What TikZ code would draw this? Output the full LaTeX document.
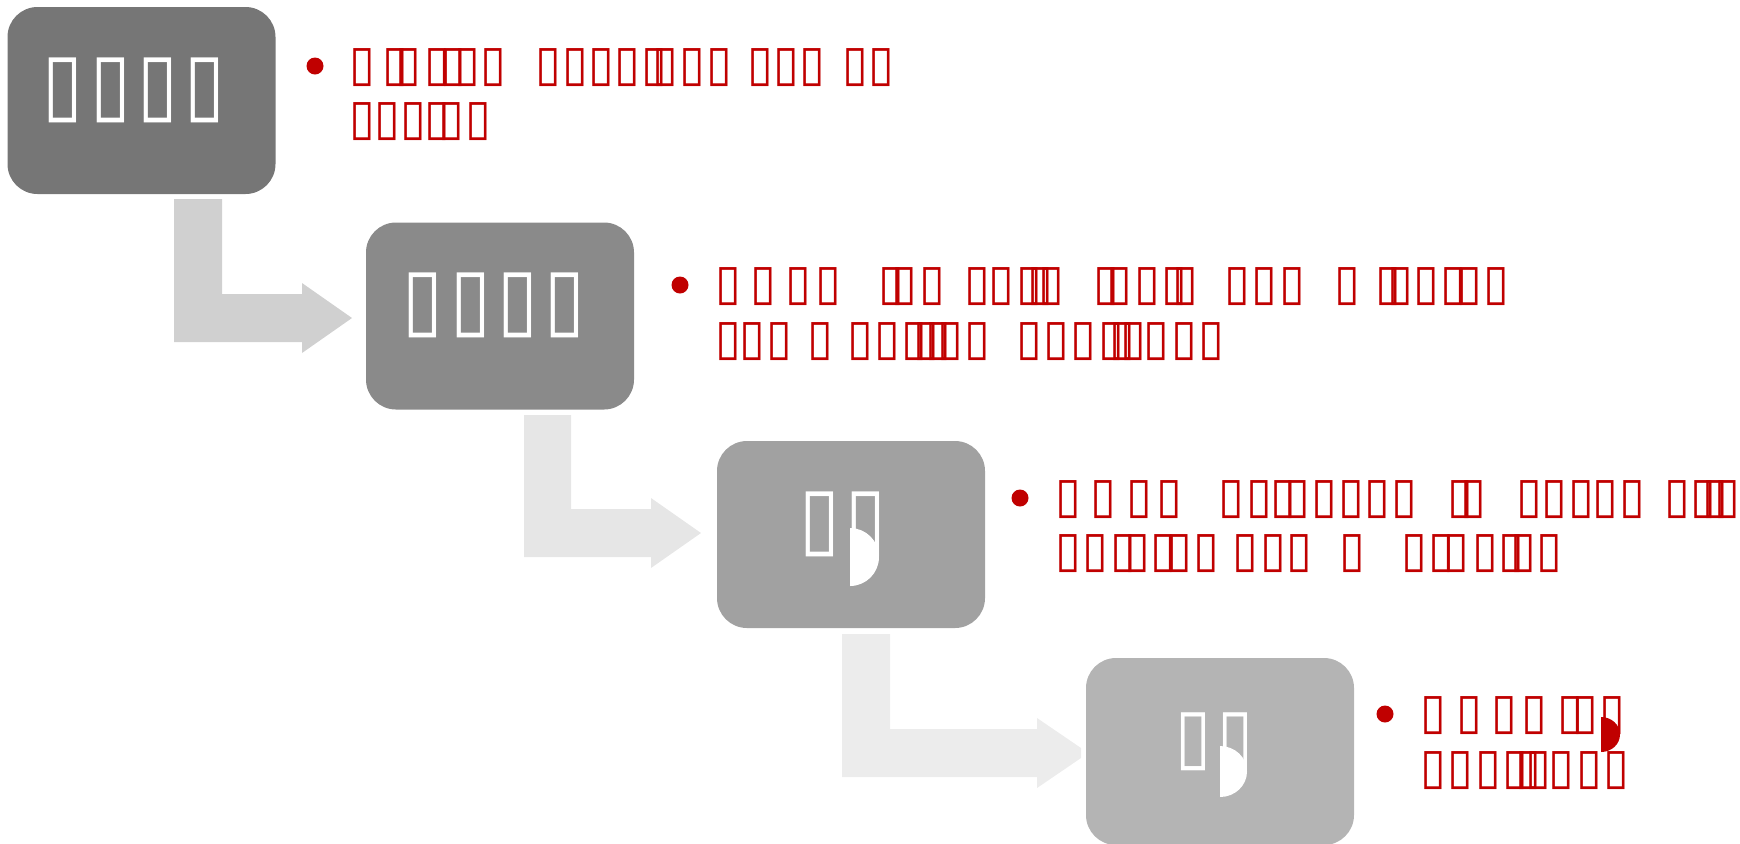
\documentclass[tikz,border=0pt]{standalone}
\usepackage{fontspec}
\usepackage{graphicx}
\newfontfamily\tofufont{DejaVu Sans}
\definecolor{redtxt}{HTML}{C00000}
\definecolor{boxa}{HTML}{767676}
\definecolor{boxb}{HTML}{8A8A8A}
\definecolor{boxc}{HTML}{A1A1A1}
\definecolor{boxd}{HTML}{B4B4B4}
\definecolor{arra}{HTML}{D0D0D0}
\definecolor{arrb}{HTML}{E6E6E6}
\definecolor{arrc}{HTML}{ECECEC}
\newcommand\rtf{\scalebox{0.94}[1]{\resizebox*{!}{19pt}{\tofufont ▯}}}
\newcommand\wtf{\scalebox{0.87}[1]{\resizebox*{!}{32.5pt}{\tofufont ▯}}}
\newcommand\wtfs{\scalebox{0.86}[1]{\resizebox*{!}{29pt}{\tofufont ▯}}}
\tikzset{
  procbox/.style={rounded corners=15pt, inner sep=0pt, minimum width=134pt, minimum height=93.5pt},
  rt/.style={inner sep=0pt, outer sep=0pt, anchor=north, text=redtxt},
  wt/.style={inner sep=0pt, outer sep=0pt, anchor=north, text=white},
  bullet/.style={circle, fill=redtxt, inner sep=0pt, minimum size=8.5pt}
}
\begin{document}
\begin{tikzpicture}[x=0.5pt,y=-0.5pt]
\useasboundingbox (0,0) rectangle (1740,843);
% boxes
\node[procbox, fill=boxa] (b1) at (141.5,100.5) {};
\node[procbox, fill=boxb] (b2) at (500,316) {};
\node[procbox, fill=boxc] (b3) at (851,534.5) {};
\node[procbox, fill=boxd] (b4) at (1220,751.5) {};
% L-shaped arrows
\fill[arra] (174,199) -- (222,199) -- (222,294) -- (302,294) -- (302,283) -- (352,318) -- (302,353) -- (302,342) -- (174,342) -- cycle;
\fill[arrb] (524,415) -- (571,415) -- (571,509) -- (651,509) -- (651,498) -- (701,533) -- (651,568) -- (651,557) -- (524,557) -- cycle;
\fill[arrc] (842,634) -- (890,634) -- (890,729) -- (1037,729) -- (1037,718) -- (1081,748) -- (1081,758) -- (1037,788) -- (1037,777) -- (842,777) -- cycle;
% titles
\foreach \x [count=\i] in {50,98,145,192} \node[wt] (ta\i) at (\x+12.5,58) {\wtf};
\foreach \x [count=\i] in {410,458,505,552} \node[wt] (tb\i) at (\x+12.5,273) {\wtf};
\foreach \x [count=\i] in {807,853} \node[wt] (tc\i) at (\x+12.5,492) {\wtf};
\foreach \x [count=\i] in {1182,1224} \node[wt] (td\i) at (\x+11.5,713) {\wtfs};
\fill[white] (850,528) .. controls (866,528) and (879,541) .. (879,557) .. controls (879,573) and (866,586) .. (850,586) -- cycle;
\fill[white] (1220,746) .. controls (1234.9,746) and (1247,757.4) .. (1247,771.5) .. controls (1247,785.6) and (1234.9,797) .. (1220,797) -- cycle;
% bullets
\node[bullet] (d1) at (315,66) {};
\node[bullet] (d2) at (680,285) {};
\node[bullet] (d3) at (1020,498) {};
\node[bullet] (d4) at (1385,714) {};
% text rows
\foreach \x [count=\i] in {354,387,400,429,445,459,485,540,567,593,619,646,657,684,711,752,778,804,847,873} \node[rt] (pa\i) at (\x+8,49) {\rtf};
\foreach \x [count=\i] in {354,379,405,429,443,470} \node[rt] (qa\i) at (\x+8,103) {\rtf};
\foreach \x [count=\i] in {720,755,790,820,883,896,924,969,993,1021,1032,1043,1098,1111,1139,1166,1177,1229,1256,1284,1339,1380,1392,1418,1445,1461,1488} \node[rt] (pb\i) at (\x+8,268) {\rtf};
\foreach \x [count=\i] in {720,744,771,812,852,879,906,918,930,942,969,1021,1048,1075,1103,1114,1125,1148,1176,1203} \node[rt] (qb\i) at (\x+8,323) {\rtf};
\foreach \x [count=\i] in {1060,1095,1131,1161,1223,1251,1275,1289,1316,1343,1369,1396,1452,1465,1521,1546,1573,1597,1624,1669,1695,1707,1719} \node[rt] (pc\i) at (\x+8,481) {\rtf};
\foreach \x [count=\i] in {1060,1087,1115,1129,1155,1171,1198,1237,1265,1291,1344,1406,1433,1448,1477,1503,1515,1541} \node[rt] (qc\i) at (\x+8,535) {\rtf};
\foreach \x [count=\i] in {1425,1461,1496,1526,1562,1577,1604} \node[rt] (pd\i) at (\x+8,697) {\rtf};
\foreach \x [count=\i] in {1425,1452,1480,1507,1520,1530,1553,1581,1608} \node[rt] (qd\i) at (\x+8,752) {\rtf};
\fill[redtxt] (1601,717) .. controls (1611.5,717) and (1620,724.8) .. (1620,734.5) .. controls (1620,744.2) and (1611.5,752) .. (1601,752) -- cycle;
\end{tikzpicture}
\end{document}
